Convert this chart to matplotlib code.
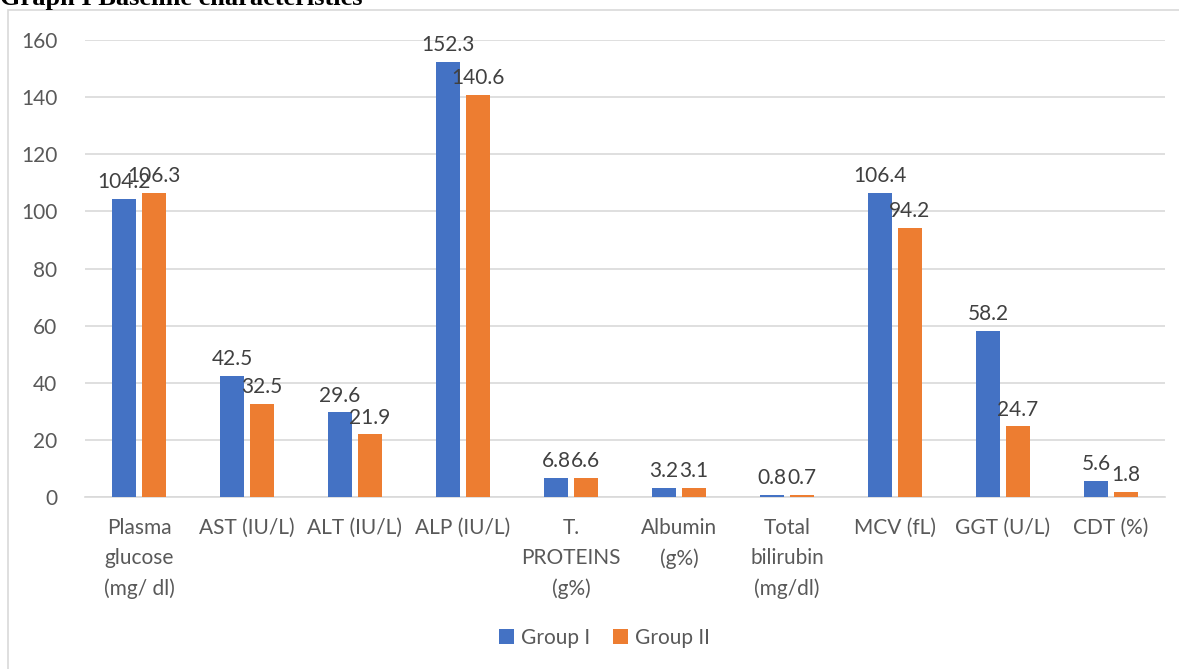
"""Grouped bar chart: baseline characteristics, Group I vs Group II."""

import numpy as np
import matplotlib.pyplot as plt
from matplotlib.patches import Rectangle

# ── Data ──────────────────────────────────────────────────
categories = ["Plasma\nglucose\n(mg/ dl)", "AST (IU/L)", "ALT (IU/L)", "ALP (IU/L)",
              "T.\nPROTEINS\n(g%)", "Albumin\n(g%)", "Total\nbilirubin\n(mg/dl)",
              "MCV (fL)", "GGT (U/L)", "CDT (%)"]
group1 = [104.2, 42.5, 29.6, 152.3, 6.8, 3.2, 0.8, 106.4, 58.2, 5.6]
group2 = [106.3, 32.5, 21.9, 140.6, 6.6, 3.1, 0.7, 94.2, 24.7, 1.8]
series_names = ["Group I", "Group II"]
yticks = [0, 20, 40, 60, 80, 100, 120, 140, 160]

BLUE = "#4472C4"
ORANGE = "#ED7D31"
GRID = "#D9D9D9"
TXT = "#595959"
FONT = "Lato"

plt.rcParams["font.family"] = [FONT, "DejaVu Sans"]

fig = plt.figure(figsize=(11.79, 6.69), dpi=100)
ax = fig.add_axes([0.0721, 0.2571, 0.916, 0.6831])

x = np.arange(len(categories))
w = 0.222
off = 0.138
b1 = ax.bar(x - off, group1, w, color=BLUE, label=series_names[0], zorder=3)
b2 = ax.bar(x + off, group2, w, color=ORANGE, label=series_names[1], zorder=3)

for bars in (b1, b2):
    for rect in bars:
        h = rect.get_height()
        ax.annotate(f"{h:g}", xy=(rect.get_x() + rect.get_width() / 2, h),
                    xytext=(0, 5), textcoords="offset points",
                    ha="center", va="bottom", fontsize=15, color="#404040")

ax.set_xlim(-0.5, len(categories) - 0.5)
ax.set_ylim(0, 160)
ax.set_yticks(yticks)
ax.set_xticks(x)
ax.set_xticklabels(categories, fontsize=15, color=TXT, linespacing=1.62, va="top")
ax.tick_params(axis="y", labelsize=15, labelcolor=TXT, length=0, pad=20)
ax.tick_params(axis="x", length=0, pad=15)
ax.grid(axis="y", color=GRID, linewidth=1.2, zorder=0)
for s in ("top", "right", "left"):
    ax.spines[s].set_visible(False)
ax.spines["bottom"].set_color(GRID)
ax.spines["bottom"].set_linewidth(1.2)

ax.legend(loc="center", bbox_to_anchor=(0.513, 0.047), bbox_transform=fig.transFigure,
          ncol=2, frameon=False, fontsize=15, labelcolor=TXT,
          handlelength=0.7, handleheight=0.7, handletextpad=0.35, columnspacing=1.1)

# outer chart frame (partially cropped)
fig.patches.append(Rectangle((8 / 1179, -0.1), 1.2, 1 - 10 / 669 + 0.1,
                             transform=fig.transFigure, fill=False,
                             edgecolor=GRID, linewidth=1.2))

fig.text(0.0, 1 - 5 / 669, "Graph I Baseline characteristics", family="Liberation Serif",
         fontweight="bold", fontsize=19, ha="left", va="baseline", color="black")

fig.savefig("out.png", dpi=100)
